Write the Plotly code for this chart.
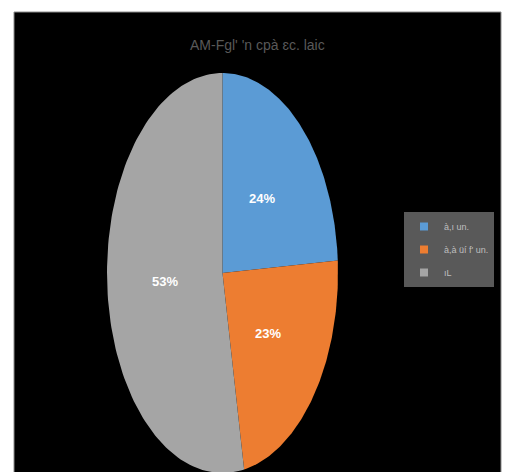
import numpy as np
import plotly.graph_objects as go

# Survey shares, clockwise from 12 o'clock
categories = ["à,ı un.", "à,à üí f' un.", "ıL"]
values = [24, 23, 53]
colors = ["#5B9BD5", "#ED7D31", "#A5A5A5"]
title_text = "AM-Fgl' 'n cpà ɛc. laic"

fig = go.Figure()

total = float(sum(values))
start = 0.0
label_x, label_y, label_txt = [], [], []
for name, v, c in zip(categories, values, colors):
    frac0, frac1 = start / total, (start + v) / total
    t = np.linspace(frac0, frac1, 120) * 2 * np.pi
    xs = np.concatenate([[0.0], np.sin(t), [0.0]])
    ys = np.concatenate([[0.0], np.cos(t), [0.0]])
    fig.add_trace(go.Scatter(
        x=xs, y=ys, mode="lines", fill="toself", fillcolor=c,
        line=dict(width=0, color=c), hoverinfo="skip", showlegend=False,
    ))
    # legend swatch
    fig.add_trace(go.Scatter(
        x=[None], y=[None], mode="markers", name=name, legendgroup=name,
        marker=dict(symbol="square", size=8, color=c),
    ))
    mid = (frac0 + frac1) / 2 * 2 * np.pi
    label_x.append(0.5 * np.sin(mid))
    label_y.append(0.5 * np.cos(mid))
    label_txt.append(f"<b>{v}%</b>")
    start += v

fig.add_trace(go.Scatter(
    x=label_x, y=label_y, mode="text", text=label_txt,
    textfont=dict(color="white", size=13, family="Liberation Sans Narrow, Arial"),
    hoverinfo="skip", showlegend=False,
))

fig.update_layout(
    width=505, height=472,
    margin=dict(l=0, r=0, t=0, b=0),
    paper_bgcolor="white", plot_bgcolor="rgba(0,0,0,0)",
    xaxis=dict(range=[-222.5 / 115.5, (505 - 222.5) / 115.5], visible=False,
               domain=[0, 1], fixedrange=True),
    yaxis=dict(range=[-(472 - 273) / 200, 273 / 200], visible=False,
               domain=[0, 1], fixedrange=True),
    shapes=[dict(type="rect", xref="paper", yref="paper",
                 x0=14 / 505, x1=501 / 505, y0=-0.01, y1=1 - 12 / 472,
                 fillcolor="black", line=dict(color="#8c8c8c", width=1),
                 layer="below")],
    annotations=[dict(text=title_text, xref="paper", yref="paper",
                      x=257.5 / 505, y=1 - 45 / 472, showarrow=False,
                      xanchor="center", yanchor="middle",
                      font=dict(size=14, color="#595959",
                                family="Liberation Sans Narrow, Arial"))],
    legend=dict(x=494 / 505, xanchor="right", y=1 - 212 / 472, yanchor="top",
                bgcolor="#595959", borderwidth=0,
                font=dict(size=9, color="#bfbfbf",
                          family="Liberation Sans Narrow, Arial"),
                itemwidth=30, tracegroupgap=4),
    showlegend=True,
)

fig.write_html("out.html")
